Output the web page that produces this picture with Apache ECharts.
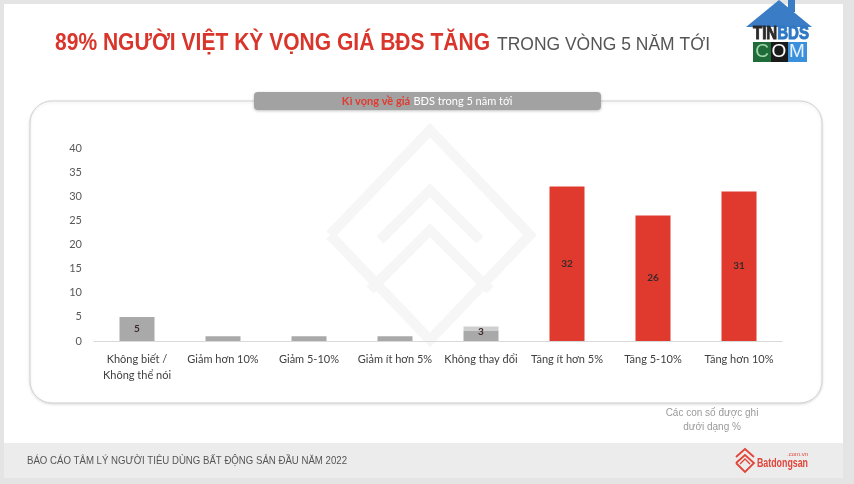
<!DOCTYPE html>
<html><head><meta charset="utf-8">
<script src="https://cdn.jsdelivr.net/npm/echarts@6/dist/echarts.min.js"></script>
<style>html,body{margin:0;padding:0;background:#e4e4e4;}#c{width:854px;height:484px;}</style>
</head><body><div id="c"></div>
<script>
const categories = ['Không biết /\nKhông thể nói','Giảm hơn 10%','Giảm 5-10%','Giảm ít hơn 5%','Không thay đổi','Tăng ít hơn 5%','Tăng 5-10%','Tăng hơn 10%'];
const values = [5, 1, 1, 1, 3, 32, 26, 31];
const labelShown = [true, false, false, false, true, true, true, true];
const isIncrease = [false, false, false, false, false, true, true, true];
const yTicks = [0,5,10,15,20,25,30,35,40];
const titleRed = '89% NGƯỜI VIỆT KỲ VỌNG GIÁ BĐS TĂNG';
const titleGray = 'TRONG VÒNG 5 NĂM TỚI';
const footerText = 'BÁO CÁO TÂM LÝ NGƯỜI TIÊU DÙNG BẤT ĐỘNG SẢN ĐẦU NĂM 2022';
const noteText = 'Các con số được ghi\ndưới dạng %';

const cv = document.createElement('canvas').getContext('2d');
function fitScale(text, font, width){ cv.font = font; return width / cv.measureText(text).width; }
const fRed = 'bold 24px "Liberation Sans"';
const fGray = '18px "Liberation Sans"';
const fFoot = '11px "Liberation Sans"';
const fLogo = 'bold 19px "Liberation Sans"';
const fBds = 'bold 13px "Liberation Sans"';
const sRed = fitScale(titleRed, fRed, 435);
const sGray = fitScale(titleGray, fGray, 213);
const sFoot = fitScale(footerText, fFoot, 320);
const sLogo = fitScale('TINBDS', fLogo, 56);
cv.font = fLogo; const tinW = cv.measureText('TIN').width * sLogo;
const sBds = fitScale('Batdongsan', fBds, 51);

const RED = '#e03a2f', GRAY = '#a9a9a9';
const chart = echarts.init(document.getElementById('c'), null, {renderer:'canvas'});
const wm = '#f6f6f6';
chart.setOption({
  animation:false,
  backgroundColor:'#e4e4e4',
  grid:{left:94, right:72, top:148, bottom:143, containLabel:false},
  xAxis:{type:'category', data:categories,
    axisLine:{lineStyle:{color:'#d9d9d9', width:1}}, axisTick:{show:false},
    axisLabel:{color:'#404040', fontSize:11, fontFamily:'Lato', margin:10, lineHeight:16, interval:0}},
  yAxis:{type:'value', min:0, max:40, interval:5,
    axisLine:{show:false}, axisTick:{show:false}, splitLine:{show:false},
    axisLabel:{color:'#595959', fontSize:11, fontFamily:'Lato', margin:12,
      formatter:v => yTicks.includes(v) ? String(v) : ''}},
  series:[{type:'bar', barWidth:35, z:3,
    data: values.map((v,i)=>({value:v,
      itemStyle:{color: isIncrease[i] ? RED : (i===4 ? new echarts.graphic.LinearGradient(0,0,0,1,[{offset:0,color:'#cfcfcf'},{offset:0.33,color:'#cfcfcf'},{offset:0.34,color:GRAY},{offset:1,color:GRAY}]) : GRAY)},
      label:{show:labelShown[i], position: i===4 ? 'insideTop' : 'inside', distance: i===4 ? 0 : 5, color:'#3a2a2a', fontSize:10, fontWeight:'bold', fontFamily:'Lato'}}))
  }],
  graphic:[
    {type:'rect', z:-10, shape:{x:4,y:4,width:839,height:439}, style:{fill:'#ffffff'}},
    {type:'rect', z:-10, shape:{x:4,y:443,width:839,height:35}, style:{fill:'#ececec'}},
    {type:'rect', z:-9, shape:{x:30,y:101,width:792,height:302,r:22}, style:{fill:'#ffffff', stroke:'#d2d2d2', lineWidth:1, shadowBlur:3, shadowColor:'rgba(0,0,0,0.12)', shadowOffsetY:1}},
    // watermark
    {type:'polyline', z:-8, shape:{points:[[330,235],[430,130],[530,235],[430,340],[330,235]]}, style:{stroke:wm, lineWidth:10, fill:null}},
    {type:'polyline', z:-8, shape:{points:[[380,240],[430,190],[480,240]]}, style:{stroke:wm, lineWidth:10, fill:null}},
    {type:'polyline', z:-8, shape:{points:[[370,290],[430,230],[490,290]]}, style:{stroke:wm, lineWidth:10, fill:null}},
    // header pill
    {type:'rect', z:-7, shape:{x:254,y:92,width:347,height:18,r:4}, style:{fill:'#a2a2a2', shadowBlur:3, shadowColor:'rgba(0,0,0,0.25)', shadowOffsetY:1}},
    {type:'text', z:-6, style:{x:427, y:101, text:'{r|Kì vọng về giá} {w|BĐS trong 5 năm tới}', align:'center', verticalAlign:'middle',
      rich:{r:{fill:'#e23a2f', fontWeight:'bold', fontSize:11, fontFamily:'Lato'}, w:{fill:'#ffffff', fontSize:11, fontFamily:'Lato'}}}},
    // title
    {type:'text', x:55, y:43, scaleX:sRed, style:{x:0, y:0, text:titleRed, font:fRed, fill:'#d9352b', verticalAlign:'middle'}},
    {type:'text', x:497, y:45, scaleX:sGray, style:{x:0, y:0, text:titleGray, font:fGray, fill:'#555555', verticalAlign:'middle'}},
    // TINBDS logo
    {type:'polygon', shape:{points:[[746,27],[779,0],[812,27]]}, style:{fill:'#3a7cc6'}},
    {type:'rect', shape:{x:788,y:0,width:7,height:12}, style:{fill:'#3a7cc6'}},
    {type:'text', x:753, y:34, scaleX:sLogo, style:{x:0,y:0,text:'TIN', font:fLogo, fill:'#2a2a2a', stroke:'#2a2a2a', lineWidth:1, verticalAlign:'middle'}},
    {type:'text', x:753 + tinW, y:34, scaleX:sLogo, style:{x:0,y:0,text:'BDS', font:fLogo, fill:'#2f78c4', stroke:'#2f78c4', lineWidth:1, verticalAlign:'middle'}},
    {type:'rect', shape:{x:753,y:42,width:18,height:20}, style:{fill:'#1f6b3a'}},
    {type:'rect', shape:{x:771,y:42,width:17,height:20}, style:{fill:'#1a1a1a'}},
    {type:'rect', shape:{x:788,y:42,width:19,height:20}, style:{fill:'#3b90dc'}},
    {type:'text', style:{x:762,y:52,text:'C',fill:'#9fd6a8',fontSize:19,fontFamily:'Liberation Sans',align:'center',verticalAlign:'middle'}},
    {type:'text', style:{x:779,y:52,text:'O',fill:'#ffffff',fontSize:19,fontFamily:'Liberation Sans',align:'center',verticalAlign:'middle'}},
    {type:'text', style:{x:797,y:52,text:'M',fill:'#e8f3ff',fontSize:19,fontFamily:'Liberation Sans',align:'center',verticalAlign:'middle'}},
    // note
    {type:'text', style:{x:712, y:420, text:noteText, fill:'#9a9a9a', fontSize:10, fontFamily:'Liberation Sans', align:'center', verticalAlign:'middle', lineHeight:14}},
    // footer
    {type:'text', x:27, y:461, scaleX:sFoot, style:{x:0,y:0,text:footerText, font:fFoot, fill:'#555555', verticalAlign:'middle'}},
    // batdongsan logo
    {type:'polyline', shape:{points:[[736,457],[745,449],[754,457]]}, style:{stroke:'#e0453a', lineWidth:1.8, fill:null}},
    {type:'polyline', shape:{points:[[736,463],[745,455],[754,463],[745,472],[736,463]]}, style:{stroke:'#e0453a', lineWidth:1.8, fill:null}},
    {type:'polyline', shape:{points:[[740,464],[745,459],[750,464]]}, style:{stroke:'#e0453a', lineWidth:1.4, fill:null}},
    {type:'text', x:757, y:463, scaleX:sBds, style:{x:0, y:0, text:'Batdongsan', font:fBds, fill:'#e0453a', verticalAlign:'middle'}},
    {type:'text', style:{x:808, y:454, text:'.com.vn', fill:'#e0453a', fontSize:6, fontFamily:'Liberation Sans', align:'right', verticalAlign:'middle'}}
  ]
});
</script></body></html>
